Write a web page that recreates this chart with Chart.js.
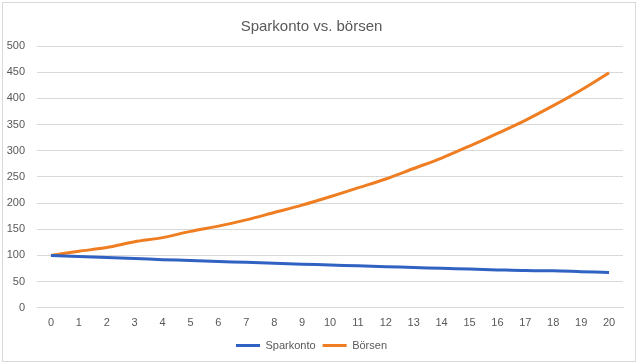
<!DOCTYPE html>
<html>
<head>
<meta charset="utf-8">
<script src="https://cdn.jsdelivr.net/npm/chart.js@4/dist/chart.umd.min.js"></script>
<style>
  html, body { margin: 0; padding: 0; background: #fff; }
  #wrap { position: absolute; left: 2px; top: 2px; width: 634px; height: 360px; border: 1px solid #d9d9d9; box-sizing: border-box; }
  canvas { position: absolute; left: 0; top: 0; }
</style>
</head>
<body>
<div id="wrap"></div>
<canvas id="chart" width="639" height="364"></canvas>
<script>
// Data
const years = ['0','1','2','3','4','5','6','7','8','9','10','11','12','13','14','15','16','17','18','19','20'];
const sparkonto = [100, 98, 96, 94, 92, 90.4, 88.6, 86.8, 85.1, 83.4, 81.7, 80.1, 78.5, 76.9, 75.4, 73.9, 72.4, 71, 70.8, 69, 67.4];
const borsen = [100, 108, 115, 126, 134, 146, 156, 168, 182, 196, 212, 229, 246, 266, 286, 309, 333, 358, 386, 416, 449];
const yTicks = { min: 0, max: 500, step: 50 };

const textColor = '#595959';
const gridColor = '#d9d9d9';

new Chart(document.getElementById('chart'), {
  type: 'line',
  data: {
    labels: years,
    datasets: [
      {
        label: 'Sparkonto',
        data: sparkonto,
        borderColor: '#2f62c2',
        backgroundColor: '#2f62c2',
        borderWidth: 3,
        pointRadius: 0,
        tension: 0.3
      },
      {
        label: 'Börsen',
        data: borsen,
        borderColor: '#ef7d22',
        backgroundColor: '#ef7d22',
        borderWidth: 3,
        pointRadius: 0,
        tension: 0.3
      }
    ]
  },
  options: {
    responsive: false,
    animation: false,
    layout: { padding: { top: 6, right: 16, bottom: 3, left: 0 } },
    plugins: {
      title: {
        display: true,
        text: 'Sparkonto vs. börsen',
        color: textColor,
        font: { family: 'Liberation Sans', size: 15, weight: 'normal' },
        padding: { top: 12, bottom: 10 }
      },
      legend: {
        position: 'bottom',
        labels: {
          color: textColor,
          font: { family: 'Liberation Sans', size: 11 },
          usePointStyle: true,
          pointStyle: 'line',
          pointStyleWidth: 24,
          padding: 7
        }
      },
      tooltip: { enabled: false }
    },
    scales: {
      x: {
        offset: true,
        grid: { display: false, drawTicks: false },
        border: { color: gridColor },
        ticks: {
          color: textColor,
          font: { family: 'Liberation Sans', size: 11 },
          padding: 9,
          maxRotation: 0,
          autoSkip: false
        },
        afterFit: (scale) => { scale.height = scale.height - 6; }
      },
      y: {
        min: yTicks.min,
        max: yTicks.max,
        grid: { color: gridColor, drawTicks: false },
        border: { display: false },
        ticks: {
          stepSize: yTicks.step,
          color: textColor,
          font: { family: 'Liberation Sans', size: 11 },
          padding: 12
        },
        afterFit: (scale) => { scale.width = 37; }
      }
    }
  }
});
</script>
</body>
</html>
